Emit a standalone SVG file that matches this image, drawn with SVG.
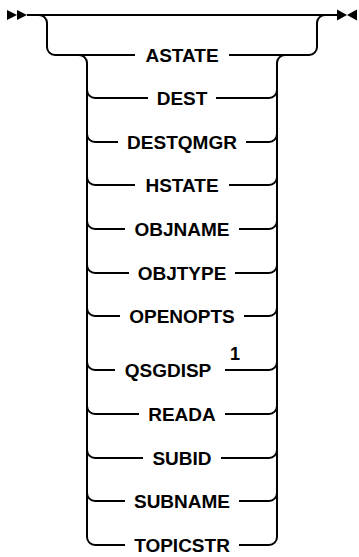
<svg xmlns="http://www.w3.org/2000/svg" width="359" height="557" viewBox="0 0 359 557">
<style>
.t{font-family:"Liberation Sans",Arial,sans-serif;font-weight:bold;font-size:19px;fill:#000;text-anchor:middle}
.sup{font-family:"Liberation Sans",Arial,sans-serif;font-weight:bold;font-size:18px;fill:#000}
.c{fill:none;stroke:#000;stroke-width:2}
.ah{fill:#000}
</style>
<rect width="359" height="557" fill="#fff"/>
<g id="connectors">
<polygon class="ah" points="7,10 17,15 7,20"/>
<polygon class="ah" points="17,10 27,15 17,20"/>
<path class="c" d="M27 15 H337"/>
<polygon class="ah" points="337,9.5 347,15 337,20.5"/>
<polygon class="ah" points="357,9.5 347,15 357,20.5"/>
<path class="c" d="M39 15 A8 8 0 0 1 47 23 V47 A8 8 0 0 0 55 55 H135"/>
<path class="c" d="M229 55 H309 A8 8 0 0 0 317 47 V23 A8 8 0 0 1 325 15"/>
<path class="c" d="M79 55 A8 8 0 0 1 87 63 V537 A8 8 0 0 0 95 545 H125"/>
<path class="c" d="M285 55 A8 8 0 0 0 277 63 V537 A8 8 0 0 1 269 545 H239"/>
<path class="c" d="M87 90 A8 8 0 0 0 95 98 H148 M216 98 H269 A8 8 0 0 0 277 90"/>
<path class="c" d="M87 134 A8 8 0 0 0 95 142 H118 M246 142 H269 A8 8 0 0 0 277 134"/>
<path class="c" d="M87 177 A8 8 0 0 0 95 185 H135 M229 185 H269 A8 8 0 0 0 277 177"/>
<path class="c" d="M87 221 A8 8 0 0 0 95 229 H125 M239 229 H269 A8 8 0 0 0 277 221"/>
<path class="c" d="M87 265 A8 8 0 0 0 95 273 H129 M235 273 H269 A8 8 0 0 0 277 265"/>
<path class="c" d="M87 308 A8 8 0 0 0 95 316 H120 M244 316 H269 A8 8 0 0 0 277 308"/>
<path class="c" d="M87 362 A8 8 0 0 0 95 370 H115 M225 370 H269 A8 8 0 0 0 277 362"/>
<path class="c" d="M87 406 A8 8 0 0 0 95 414 H139 M225 414 H269 A8 8 0 0 0 277 406"/>
<path class="c" d="M87 450 A8 8 0 0 0 95 458 H143 M221 458 H269 A8 8 0 0 0 277 450"/>
<path class="c" d="M87 493 A8 8 0 0 0 95 501 H125 M239 501 H269 A8 8 0 0 0 277 493"/>
</g>
<g id="astate"><text class="t" x="182" y="62">ASTATE</text></g>
<g id="dest"><text class="t" x="182" y="105">DEST</text></g>
<g id="destqmgr"><text class="t" x="182" y="149">DESTQMGR</text></g>
<g id="hstate"><text class="t" x="182" y="192">HSTATE</text></g>
<g id="objname"><text class="t" x="182" y="236">OBJNAME</text></g>
<g id="objtype"><text class="t" x="182" y="280">OBJTYPE</text></g>
<g id="openopts"><text class="t" x="182" y="323">OPENOPTS</text></g>
<g id="qsgdisp"><text class="t" x="168" y="377">QSGDISP</text><text class="sup" x="230" y="360">1</text></g>
<g id="reada"><text class="t" x="182" y="421">READA</text></g>
<g id="subid"><text class="t" x="182" y="465">SUBID</text></g>
<g id="subname"><text class="t" x="182" y="508">SUBNAME</text></g>
<g id="topicstr"><text class="t" x="182" y="552">TOPICSTR</text></g>
</svg>
